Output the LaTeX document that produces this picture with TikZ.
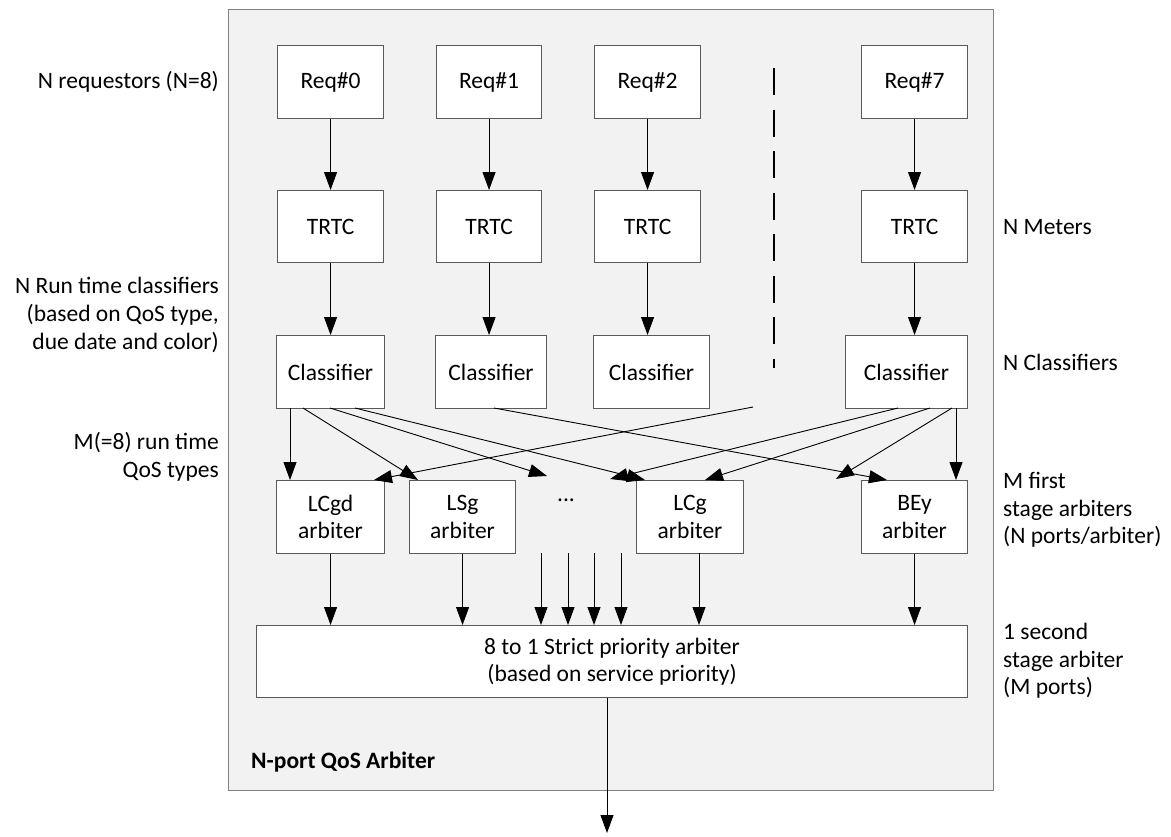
\documentclass[tikz,border=0pt]{standalone}
\usepackage{fontspec}
\setmainfont{Carlito}
\usetikzlibrary{arrows.meta}
\definecolor{panel}{HTML}{F2F2F2}
\definecolor{edgec}{HTML}{595959}
\definecolor{framec}{HTML}{808080}
\begin{document}
\begin{tikzpicture}[x=1bp,y=-1bp,
  font=\fontsize{23.6}{27.7}\selectfont,
  box/.style={draw=edgec, line width=1.1bp, fill=white, inner sep=0pt,
    anchor=north west, align=center},
  conn/.style={line width=0.9bp, -{Triangle[length=18bp,width=13bp]}},
  lblr/.style={anchor=east, align=right, inner sep=0pt},
  lbll/.style={anchor=west, align=left, inner sep=0pt}]
\useasboundingbox (0,0) rectangle (1171,837);
% outer panel
\node[draw=framec, fill=panel, line width=1.3bp, inner sep=0pt, anchor=north west,
  minimum width=765bp, minimum height=781bp] (panel) at (228,9) {};
% requestors
\node[box, minimum width=106bp, minimum height=73bp] (r0) at (277,45) {Req\#0};
\node[box, minimum width=105bp, minimum height=73bp] (r1) at (436,45) {Req\#1};
\node[box, minimum width=106bp, minimum height=73bp] (r2) at (594,45) {Req\#2};
\node[box, minimum width=106bp, minimum height=73bp] (r7) at (861,45) {Req\#7};
% meters
\node[box, minimum width=106bp, minimum height=72bp] (t0) at (277,190) {TRTC};
\node[box, minimum width=105bp, minimum height=72bp] (t1) at (436,190) {TRTC};
\node[box, minimum width=106bp, minimum height=72bp] (t2) at (594,190) {TRTC};
\node[box, minimum width=106bp, minimum height=72bp] (t7) at (861,190) {TRTC};
% classifiers
\node[box, minimum width=108bp, minimum height=73bp] (c0) at (276,335) {Classifier};
\node[box, minimum width=111bp, minimum height=73bp] (c1) at (435,335) {Classifier};
\node[box, minimum width=116bp, minimum height=73bp] (c2) at (593,335) {Classifier};
\node[box, minimum width=122bp, minimum height=73bp] (c7) at (845,335) {Classifier};
% first stage arbiters
\node[box, minimum width=108bp, minimum height=73bp] (a0) at (276,480) {LCgd\\arbiter};
\node[box, minimum width=106bp, minimum height=73bp] (a1) at (409,480) {LSg\\arbiter};
\node[box, minimum width=107bp, minimum height=73bp] (a2) at (636,480) {LCg\\arbiter};
\node[box, minimum width=106bp, minimum height=73bp] (a7) at (861,480) {BEy\\arbiter};
\node[inner sep=0pt] (dots) at (566,500) {...};
% second stage arbiter
\node[box, minimum width=711bp, minimum height=72bp] (big) at (256,625)
  {8 to 1 Strict priority arbiter\\(based on service priority)};
% title
\node[lbll] (title) at (251,762) {\bfseries N-port QoS Arbiter};
% side labels
\node[lblr] (lreq) at (219,82) {N requestors (N=8)};
\node[lblr] (lrun) at (219,315) {N Run time classifiers\\(based on QoS type,\\due date and color)};
\node[lblr] (lqos) at (219,457) {M(=8) run time\\QoS types};
\node[lbll] (lmet) at (1003,227) {N Meters};
\node[lbll] (lcls) at (1003,362) {N Classifiers};
\node[lbll] (lfirst) at (1003,510) {M first\\stage arbiters\\(N ports/arbiter)};
\node[lbll] (lsecond) at (1003,661) {1 second\\stage arbiter\\(M ports)};
% dashed separator
\coordinate (dashTop) at (774,68);
\coordinate (dashBot) at (774,368);
\draw[line width=1.2bp, dash pattern=on 27bp off 14.5bp] (dashTop) -- (dashBot);
% requestor -> meter -> classifier
\foreach \i in {0,1,2,7}{
  \draw[conn] (r\i.south) -- (t\i.north);
  \draw[conn] (t\i.south) -- (t\i.south |- c\i.north);
}
% fan-out ports
\coordinate (c0p0) at (290,408);
\coordinate (c0p1) at (303,408);
\coordinate (c0p2) at (330,408);
\coordinate (c0p3) at (355,408);
\coordinate (c1p0) at (494,408);
\coordinate (dp0)  at (753,407);
\coordinate (c7p0) at (898,408);
\coordinate (c7p1) at (930,408);
\coordinate (c7p2) at (952,408);
\coordinate (c7p3) at (956,408);
% arrival points
\coordinate (a1in) at (418,480);
\coordinate (x1in) at (547,476);
\coordinate (a2in) at (645,480);
\coordinate (a7in) at (887,480);
\coordinate (a0in) at (374,480);
\coordinate (x2in) at (610,479);
\coordinate (a2in2) at (705,480);
\coordinate (x3in) at (836,479);
\draw[conn] (c0p0) -- (c0p0 |- a0.north);
\draw[conn] (c0p1) -- (a1in);
\draw[conn] (c0p2) -- (x1in);
\draw[conn] (c0p3) -- (a2in);
\draw[conn] (c1p0) -- (a7in);
\draw[conn] (dp0) -- (a0in);
\draw[conn] (c7p0) -- (x2in);
\draw[conn] (c7p1) -- (a2in2);
\draw[conn] (c7p2) -- (x3in);
\draw[conn] (c7p3) -- (c7p3 |- a7.north);
% first stage -> second stage
\draw[conn] (a0.south) -- (a0.south |- big.north);
\draw[conn] (a1.south) -- (a1.south |- big.north);
\coordinate (a2out) at (699,553);
\draw[conn] (a2out) -- (a2out |- big.north);
\draw[conn] (a7.south) -- (a7.south |- big.north);
\coordinate (f1) at (541,553);
\coordinate (f2) at (568,553);
\coordinate (f3) at (594,553);
\coordinate (f4) at (621,553);
\foreach \f in {f1,f2,f3,f4}{\draw[conn] (\f) -- (\f |- big.north);}
% output
\coordinate (outEnd) at (607,833);
\draw[conn] (outEnd |- big.south) -- (outEnd);
\end{tikzpicture}
\end{document}
